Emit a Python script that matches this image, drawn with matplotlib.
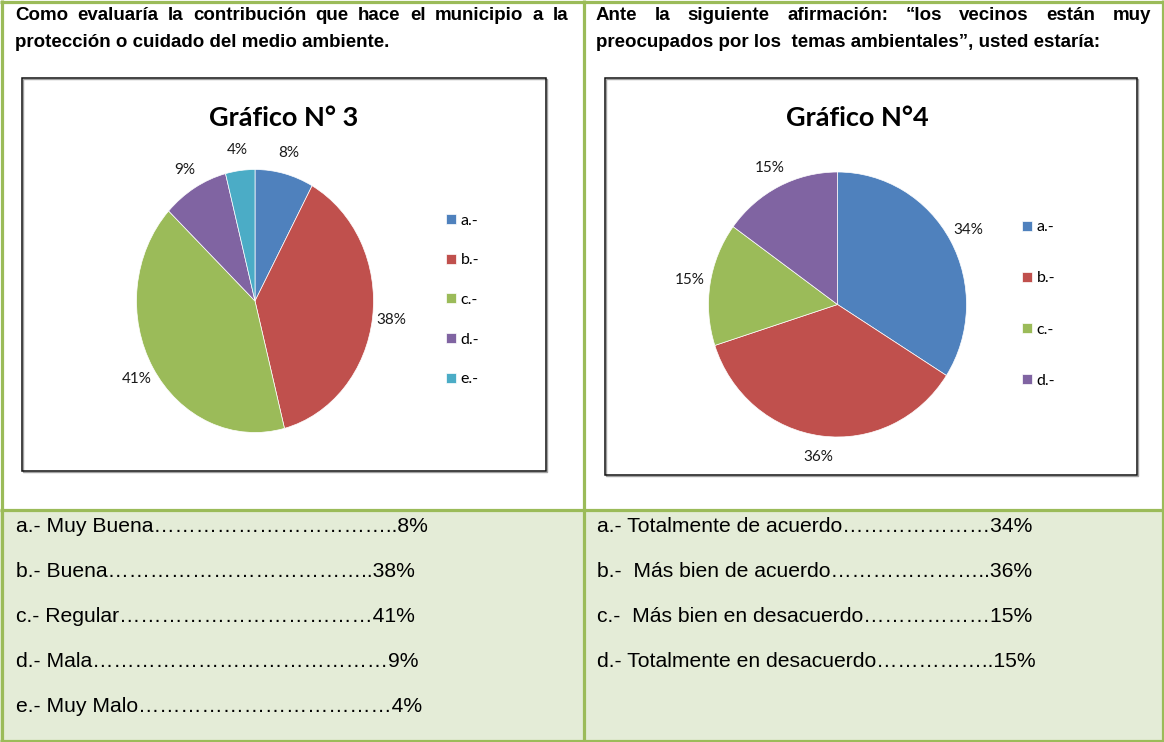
import matplotlib
matplotlib.use("Agg")
import matplotlib.pyplot as plt
from matplotlib.patches import Rectangle

W, H, DPI = 1164, 742, 100

# ---------------- data ----------------
chart3_title = "Gráfico N° 3"
chart3_labels = ["a.-", "b.-", "c.-", "d.-", "e.-"]
chart3_values = [8, 38, 41, 9, 4]

chart4_title = "Gráfico N°4"
chart4_labels = ["a.-", "b.-", "c.-", "d.-"]
chart4_values = [34, 36, 15, 15]

slice_colors = ["#4F81BD", "#C0504D", "#9BBB59", "#8064A2", "#4BACC6"]

question3 = ["Como evaluaría la contribución que hace el municipio a la",
             "protección o cuidado del medio ambiente."]
question4 = ["Ante la siguiente afirmación: “los vecinos están muy",
             "preocupados por los  temas ambientales”, usted estaría:"]

answers3 = ["a.- Muy Buena" + "…" * 11 + "..8%",
            "b.- Buena" + "…" * 12 + "..38%",
            "c.- Regular" + "…" * 12 + "41%",
            "d.- Mala" + "…" * 14 + "9%",
            "e.- Muy Malo" + "…" * 12 + "4%"]
answers4 = ["a.- Totalmente de acuerdo" + "…" * 7 + "34%",
            "b.-  Más bien de acuerdo" + "…" * 7 + "..36%",
            "c.-  Más bien en desacuerdo" + "…" * 6 + "15%",
            "d.- Totalmente en desacuerdo" + "…" * 5 + "..15%"]

GREEN = "#9BBB59"
PALE = "#E4ECD7"

fig = plt.figure(figsize=(W / DPI, H / DPI), dpi=DPI)
fig.patch.set_facecolor("white")
ax0 = fig.add_axes([0, 0, 1, 1])
ax0.set_xlim(0, W)
ax0.set_ylim(H, 0)
ax0.axis("off")

# background of answer rows
ax0.add_patch(Rectangle((0, 510), W, H - 510, facecolor=PALE, edgecolor="none", zorder=0))

# table borders
lw_px = 3.2 * 72 / DPI
for xs, ys in [([1.5, 1.5], [0, H]), ([W - 1.5, W - 1.5], [0, H]),
               ([0, W], [1.5, 1.5]), ([0, W], [H - 1.5, H - 1.5]),
               ([583.5, 583.5], [0, H]), ([0, W], [509.5, 509.5])]:
    ax0.plot(xs, ys, color=GREEN, lw=lw_px, solid_capstyle="butt", zorder=3)

# chart boxes with slight shadow
for (x0, y0, x1, y1) in [(22, 78, 546, 471), (605, 78, 1137, 475)]:
    ax0.add_patch(Rectangle((x0 + 1.2, y0 + 1.2), x1 - x0, y1 - y0, fill=False,
                            edgecolor="#a0a0a0", lw=1.0, zorder=1))
    ax0.add_patch(Rectangle((x0, y0), x1 - x0, y1 - y0, fill=False,
                            edgecolor="#111111", lw=1.1, zorder=2))

renderer = fig.canvas.get_renderer()
hdr_kw = dict(family="Liberation Sans", fontweight="bold", fontsize=13.5, color="black")


def justified(words, x0, x1, y):
    ts = [ax0.text(0, y, w, ha="left", va="baseline", **hdr_kw) for w in words]
    widths = [t.get_window_extent(renderer).width for t in ts]
    gap = (x1 - x0 - sum(widths)) / (len(words) - 1)
    x = x0
    for t, w in zip(ts, widths):
        t.set_x(x)
        x += w + gap


justified(question3[0].split(), 15, 568, 19.5)
ax0.text(15, 47, question3[1], ha="left", va="baseline", **hdr_kw)
justified(question4[0].split(), 596, 1151, 19.5)
ax0.text(596, 47, question4[1], ha="left", va="baseline", **hdr_kw)

ans_kw = dict(family="Liberation Sans", fontsize=15.2, color="black", ha="left", va="baseline")
for i, s in enumerate(answers3):
    ax0.text(16, 532 + 45 * i, s, **ans_kw)
for i, s in enumerate(answers4):
    ax0.text(597, 532 + 45 * i, s, **ans_kw)

title_kw = dict(family="Lato", fontweight="bold", fontsize=19.5, color="black",
                ha="center", va="baseline")
ax0.text(284, 126, chart3_title, **title_kw)
ax0.text(857, 126, chart4_title, **title_kw)

LIM = 1.45


def pie_chart(values, labels, colors, cx, cy, rx, ry, leg_x, leg_y, spacing):
    ax = fig.add_axes([(cx - LIM * rx) / W, (H - cy - LIM * ry) / H,
                       2 * LIM * rx / W, 2 * LIM * ry / H])
    wedges, _, autotexts = ax.pie(
        values, colors=colors, startangle=90, counterclock=False,
        autopct=lambda p: f"{p:.0f}%", pctdistance=1.16,
        wedgeprops=dict(edgecolor="white", linewidth=0.5),
        textprops=dict(family="Lato", fontsize=11, color="#1a1a1a"))
    ax.set_aspect("auto")
    ax.set_xlim(-LIM, LIM)
    ax.set_ylim(-LIM, LIM)
    fig.legend(wedges, labels, loc="center left",
               bbox_to_anchor=(leg_x / W, 1 - leg_y / H), bbox_transform=fig.transFigure,
               frameon=False, borderpad=0, borderaxespad=0,
               handlelength=0.6, handleheight=0.6, handletextpad=0.3,
               labelspacing=spacing, prop=dict(family="Lato", size=11.5))
    return ax


pie_chart(chart3_values, chart3_labels, slice_colors[:5], 255, 301, 118.5, 131.5, 446, 300, 1.61)
pie_chart(chart4_values, chart4_labels, slice_colors[:4], 837.5, 304.5, 129, 132.5, 1022, 304, 2.32)

fig.savefig("out.png", dpi=DPI, facecolor="white")
